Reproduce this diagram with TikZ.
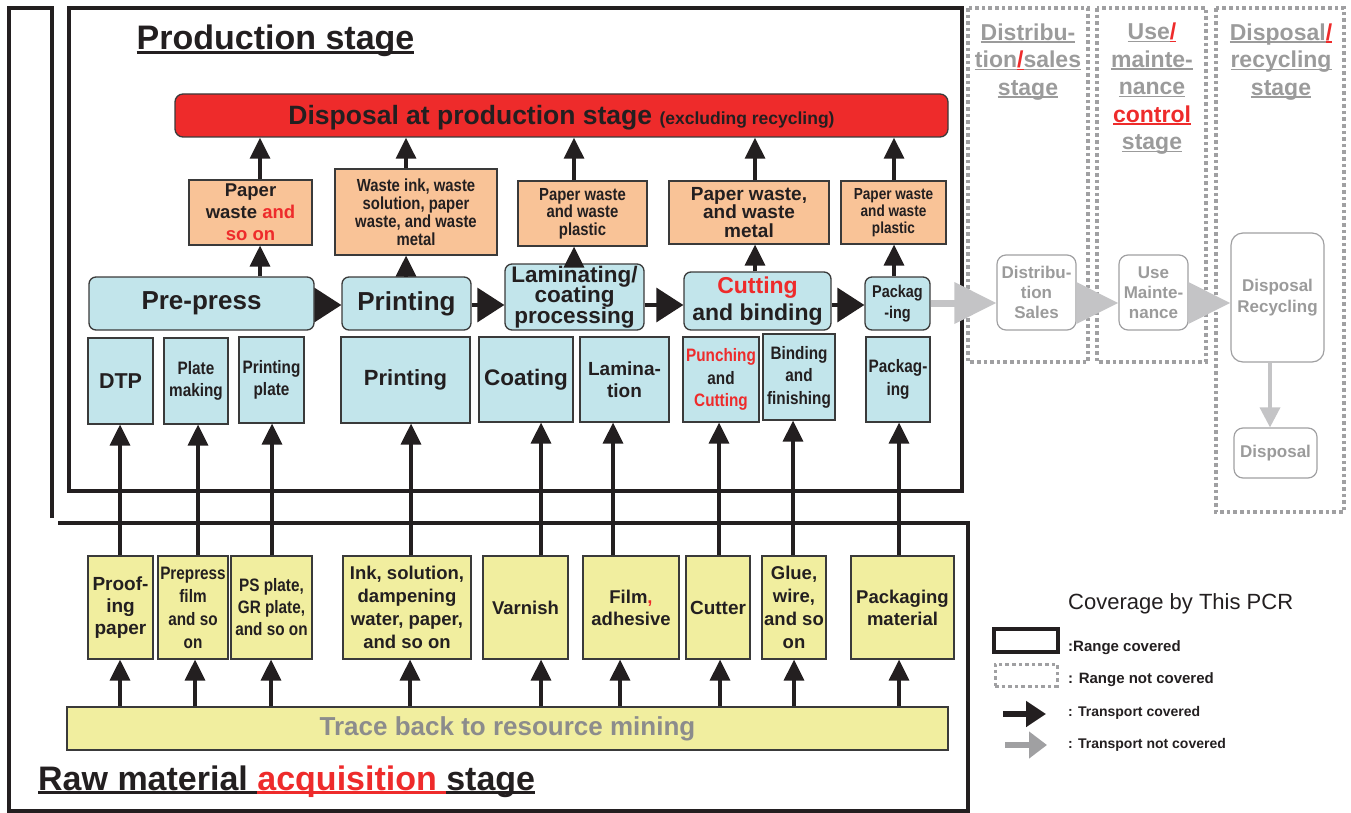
\documentclass[tikz,border=0pt]{standalone}
\usepackage{fontspec}
\setmainfont{Liberation Sans}
\newfontfamily\nf[FakeStretch=0.85]{Liberation Sans}
\usetikzlibrary{arrows.meta}
\newcommand\fs[2]{\fontsize{#1}{#2}\selectfont\lineskiplimit=-50pt\lineskip=0pt\relax}
\newcommand\myul[1]{\setbox0\hbox{#1}\rlap{\rule[-0.11em]{\wd0}{0.07em}}\box0}
\definecolor{lblue}{HTML}{C2E5EB}
\definecolor{lorange}{HTML}{F9C397}
\definecolor{lyellow}{HTML}{F1EE9F}
\definecolor{myred}{HTML}{EE2B2B}
\definecolor{ink}{HTML}{231F20}
\definecolor{gline}{HTML}{A0A0A2}
\definecolor{gtext}{HTML}{9B9B9B}
\definecolor{garrow}{HTML}{C4C4C6}
\definecolor{edge}{HTML}{3A3A3A}
\definecolor{tracegrey}{HTML}{8C8C8C}
\begin{document}
\begin{tikzpicture}[x=1pt,y=-1pt,font=\bfseries,text=ink,
  proc/.style={draw=edge,line width=1.3pt,fill=lblue,rounded corners=7pt,inner sep=0pt,align=center},
  sub/.style={draw=edge,line width=1.2pt,fill=lblue,inner sep=0pt,align=center},
  waste/.style={sub,fill=lorange},
  rawbox/.style={sub,fill=lyellow},
  gbox/.style={draw=gline,line width=1.2pt,rounded corners=9pt,inner sep=0pt,align=center,text=gtext,fill=white},
  gtitle/.style={align=center,inner sep=0pt,text=gtext,font=\fs{23}{27.5}\bfseries},
  frame/.style={draw=ink,line width=4.5pt},
  gframe/.style={draw=gline,line width=3.8pt,dash pattern=on 3.6pt off 3pt},
  uparr/.style={draw=ink,line width=3.2pt,-{Triangle[length=21pt,width=20pt]}},
  rarr/.style={draw=ink,line width=3.2pt,-{Triangle[length=27pt,width=34pt]}},
  garr/.style={draw=garrow,line width=7pt,-{Triangle[length=42pt,width=40pt]}},
  gdarr/.style={draw=garrow,line width=3.5pt,-{Triangle[length=20pt,width=20pt]}}]
\useasboundingbox (0,0) rectangle (1351,813);

% frames
\draw[frame] (69,8) rectangle (962,491);
\draw[frame] (52,518) -- (52,8) -- (9,8) -- (9,811) -- (968,811) -- (968,523) -- (58,523);
\draw[gframe] (968,8) rectangle (1088,362);
\draw[gframe] (1097,8) rectangle (1206,362);
\draw[gframe] (1216,8) rectangle (1344,512);

% titles
\node[anchor=base,inner sep=0pt,font=\fs{34}{40}\bfseries] (ptitle) at (275.5,50) {\myul{Production stage}};
\node[anchor=base west,inner sep=0pt,font=\fs{34}{40}\bfseries] (rtitle) at (38,790) {\myul{Raw material }\textcolor{myred}{\myul{acquisition }}\myul{stage}};
\node[gtitle] (t1) at (1028,62) {\myul{Distribu-}\\\myul{tion}\textcolor{myred}{\myul{/}}\myul{sales}\\\myul{stage}};
\node[gtitle] (t2) at (1152,89) {\myul{Use}\textcolor{myred}{\myul{/}}\\\myul{mainte-}\\\myul{nance}\\\textcolor{myred}{\myul{control}}\\\myul{stage}};
\node[gtitle] (t3) at (1281,62) {\myul{Disposal}\textcolor{myred}{\myul{/}}\\\myul{recycling}\\\myul{stage}};

% disposal bar
\node[proc,fill=myred,minimum width=773pt,minimum height=43pt,rounded corners=8pt,font=\fs{26.5}{30}\bfseries,text depth=1pt] (disp) at (561.5,115.5) {Disposal at production stage {\fs{17.5}{20}\bfseries(excluding recycling)}};

% waste boxes
\node[waste,minimum width=123pt,minimum height=65pt,font=\fs{18.5}{22}\bfseries] (w1) at (250.5,212.5) {Paper\\waste \textcolor{myred}{and}\\\textcolor{myred}{so on}};
\node[waste,minimum width=162pt,minimum height=86pt,font=\nf\fs{17.5}{18}\bfseries] (w2) at (416,212) {Waste ink, waste\\solution, paper\\waste, and waste\\metal};
\node[waste,minimum width=129pt,minimum height=65pt,font=\nf\fs{17.5}{17.5}\bfseries] (w3) at (582.5,213.5) {Paper waste\\and waste\\plastic};
\node[waste,minimum width=160pt,minimum height=63pt,font=\fs{19}{18.5}\bfseries] (w4) at (749,212.5) {Paper waste,\\and waste\\metal};
\node[waste,minimum width=105pt,minimum height=63pt,font=\nf\fs{16}{17}\bfseries] (w5) at (893.5,212.5) {Paper waste\\and waste\\plastic};

% process boxes
\node[proc,minimum width=225pt,minimum height=53pt,font=\fs{26}{30}\bfseries] (pp) at (201.5,303.5) {Pre-press};
\node[proc,minimum width=129pt,minimum height=53pt,font=\fs{26}{30}\bfseries] (pr) at (406.5,303.5) {Printing};
\node[proc,minimum width=139pt,minimum height=66pt,font=\fs{22.5}{20.5}\bfseries] (lam) at (574.5,297) {Laminating/\\coating\\processing};
\node[proc,minimum width=147pt,minimum height=58pt,font=\fs{23}{27}\bfseries] (cut) at (757.5,301) {\textcolor{myred}{Cutting}\\and binding};
\node[proc,minimum width=65pt,minimum height=53pt,font=\nf\fs{17}{21}\bfseries] (pk) at (897.5,303.5) {Packag\\-ing};

% sub processes
\node[sub,minimum width=65pt,minimum height=86pt,font=\fs{21.5}{25}\bfseries] (s1) at (120.5,381) {DTP};
\node[sub,minimum width=64pt,minimum height=86pt,font=\nf\fs{18}{22}\bfseries] (s2) at (196,381) {Plate\\making};
\node[sub,minimum width=65pt,minimum height=86pt,font=\nf\fs{18}{22}\bfseries] (s3) at (271.5,380) {Printing\\plate};
\node[sub,minimum width=129pt,minimum height=86pt,font=\fs{22}{26}\bfseries] (s4) at (405.5,380) {Printing};
\node[sub,minimum width=94pt,minimum height=85pt,font=\fs{22.5}{26}\bfseries] (s5) at (526,379.5) {Coating};
\node[sub,minimum width=89pt,minimum height=85pt,font=\fs{19}{22}\bfseries] (s6) at (624.5,379.5) {Lamina-\\tion};
\node[sub,minimum width=76pt,minimum height=85pt,font=\nf\fs{18}{22.5}\bfseries] (s7) at (721,379.5) {\textcolor{myred}{Punching}\\and\\\textcolor{myred}{Cutting}};
\node[sub,minimum width=72pt,minimum height=86pt,font=\nf\fs{18}{22.5}\bfseries] (s8) at (799,377) {Binding\\and\\finishing};
\node[sub,minimum width=64pt,minimum height=85pt,font=\nf\fs{18}{23}\bfseries] (s9) at (898,379.5) {Packag-\\ing};

% raw materials
\node[rawbox,minimum width=65pt,minimum height=103pt,font=\fs{19}{22}\bfseries] (y1) at (120.5,607.5) {Proof-\\ing\\paper};
\node[rawbox,minimum width=70pt,minimum height=103pt,font=\nf\fs{18}{23}\bfseries] (y2) at (193,607.5) {Prepress\\film\\and so\\on};
\node[rawbox,minimum width=81pt,minimum height=103pt,font=\nf\fs{18}{22}\bfseries] (y3) at (271.5,607.5) {PS plate,\\GR plate,\\and so on};
\node[rawbox,minimum width=128pt,minimum height=103pt,font=\fs{18.5}{23}\bfseries] (y4) at (407,607.5) {Ink, solution,\\dampening\\water, paper,\\and so on};
\node[rawbox,minimum width=85pt,minimum height=103pt,font=\fs{18.5}{22}\bfseries] (y5) at (525.5,607.5) {Varnish};
\node[rawbox,minimum width=96pt,minimum height=103pt,font=\fs{18.5}{22}\bfseries] (y6) at (631,607.5) {Film\textcolor{myred}{,}\\adhesive};
\node[rawbox,minimum width=64pt,minimum height=103pt,font=\fs{19}{22}\bfseries] (y7) at (718,607.5) {Cutter};
\node[rawbox,minimum width=64pt,minimum height=103pt,font=\fs{18.5}{23}\bfseries] (y8) at (794,607.5) {Glue,\\wire,\\and so\\on};
\node[rawbox,minimum width=103pt,minimum height=103pt,font=\fs{18.5}{22}\bfseries] (y9) at (902.5,607.5) {Packaging\\material};

\node[rawbox,minimum width=881pt,minimum height=43pt,text=tracegrey,font=\fs{26}{30}\bfseries] (tr) at (507.5,728.5) {Trace back to resource mining};

% grey nodes
\node[gbox,minimum width=79pt,minimum height=75pt,font=\fs{17}{20}\bfseries] (gd) at (1036.5,292.5) {Distribu-\\tion\\Sales};
\node[gbox,minimum width=69pt,minimum height=75pt,font=\fs{17}{20}\bfseries] (gu) at (1153.5,292.5) {Use\\Mainte-\\nance};
\node[gbox,minimum width=93pt,minimum height=129pt,rounded corners=12pt,font=\fs{17}{21}\bfseries] (gr) at (1277.5,297.5) {Disposal\\Recycling};
\node[gbox,minimum width=83pt,minimum height=50pt,font=\fs{17}{20}\bfseries] (gdp) at (1275.5,453) {Disposal};

% helper coordinates
\coordinate (a1) at (260,0);
\coordinate (a2) at (406,0);
\coordinate (a3) at (574,0);
\coordinate (a4) at (755,0);
\coordinate (a5) at (894,0);
\coordinate (row) at (0,305);
\coordinate (grow) at (0,303);
\coordinate (gx) at (1270,0);
\coordinate (u1) at (120,0);
\coordinate (u2) at (198,0);
\coordinate (u3) at (272,0);
\coordinate (u4) at (411,0);
\coordinate (u5) at (541,0);
\coordinate (u6) at (613,0);
\coordinate (u7) at (719,0);
\coordinate (u8) at (793,0);
\coordinate (u9) at (899,0);
\coordinate (l1) at (120,0);
\coordinate (l2) at (195,0);
\coordinate (l3) at (271,0);
\coordinate (l4) at (410,0);
\coordinate (l5) at (541,0);
\coordinate (l6) at (620,0);
\coordinate (l7) at (720,0);
\coordinate (l8) at (794,0);
\coordinate (l9) at (899,0);

% waste arrows
\draw[uparr] (pp.north -| a1) -- (w1.south -| a1);
\draw[uparr] (w1.north -| a1) -- (disp.south -| a1);
\draw[uparr] (pr.north -| a2) -- (w2.south -| a2);
\draw[uparr] (w2.north -| a2) -- (disp.south -| a2);
\draw[uparr] (lam.north -| a3) -- (w3.south -| a3);
\draw[uparr] (w3.north -| a3) -- (disp.south -| a3);
\draw[uparr] (cut.north -| a4) -- (w4.south -| a4);
\draw[uparr] (w4.north -| a4) -- (disp.south -| a4);
\draw[uparr] (pk.north -| a5) -- (w5.south -| a5);
\draw[uparr] (w5.north -| a5) -- (disp.south -| a5);

% process arrows
\draw[rarr] (pp.east |- row) -- (pr.west |- row);
\draw[rarr] (pr.east |- row) -- (lam.west |- row);
\draw[rarr] (lam.east |- row) -- (cut.west |- row);
\draw[rarr] (cut.east |- row) -- (pk.west |- row);

% raw material arrows
\draw[uparr] (y1.north -| u1) -- (s1.south -| u1);
\draw[uparr] (y2.north -| u2) -- (s2.south -| u2);
\draw[uparr] (y3.north -| u3) -- (s3.south -| u3);
\draw[uparr] (y4.north -| u4) -- (s4.south -| u4);
\draw[uparr] (y5.north -| u5) -- (s5.south -| u5);
\draw[uparr] (y6.north -| u6) -- (s6.south -| u6);
\draw[uparr] (y7.north -| u7) -- (s7.south -| u7);
\draw[uparr] (y8.north -| u8) -- (s8.south -| u8);
\draw[uparr] (y9.north -| u9) -- (s9.south -| u9);
\draw[uparr] (tr.north -| l1) -- (y1.south -| l1);
\draw[uparr] (tr.north -| l2) -- (y2.south -| l2);
\draw[uparr] (tr.north -| l3) -- (y3.south -| l3);
\draw[uparr] (tr.north -| l4) -- (y4.south -| l4);
\draw[uparr] (tr.north -| l5) -- (y5.south -| l5);
\draw[uparr] (tr.north -| l6) -- (y6.south -| l6);
\draw[uparr] (tr.north -| l7) -- (y7.south -| l7);
\draw[uparr] (tr.north -| l8) -- (y8.south -| l8);
\draw[uparr] (tr.north -| l9) -- (y9.south -| l9);

% grey arrows
\draw[garr] (pk.east |- grow) -- (gd.west |- grow);
\draw[garr] (gd.east |- grow) -- (gu.west |- grow);
\draw[garr] (gu.east |- grow) -- (gr.west |- grow);
\draw[gdarr] (gr.south -| gx) -- (gdp.north -| gx);

% legend
\node[anchor=west,inner sep=0pt,font=\fs{22}{26}\mdseries] (lg) at (1068,604) {Coverage by This PCR};
\node[draw=ink,line width=4pt,minimum width=64pt,minimum height=23pt,inner sep=0pt] (lr1) at (1026,640.5) {};
\node[anchor=west,inner sep=0pt,font=\fs{15}{18}\bfseries] (lt1) at (1068,648) {:Range covered};
\node[gframe,line width=3pt,minimum width=62pt,minimum height=22pt,inner sep=0pt] (lr2) at (1026,675) {};
\node[anchor=west,inner sep=0pt,font=\fs{15}{18}\bfseries] (lt2) at (1068,680) {: Range not covered};
\coordinate (lb1) at (1003,714);
\coordinate (lb2) at (1046,714);
\draw[draw=ink,line width=6pt,-{Triangle[length=20pt,width=25pt]}] (lb1) -- (lb2);
\node[anchor=west,inner sep=0pt,font=\fs{14}{17}\bfseries] (lt3) at (1068,713) {: Transport covered};
\coordinate (lg1) at (1005,745);
\coordinate (lg2) at (1047,745);
\draw[draw=gline,line width=6pt,-{Triangle[length=18pt,width=26pt]}] (lg1) -- (lg2);
\node[anchor=west,inner sep=0pt,font=\fs{14}{17}\bfseries] (lt4) at (1068,745) {: Transport not covered};
\end{tikzpicture}
\end{document}
